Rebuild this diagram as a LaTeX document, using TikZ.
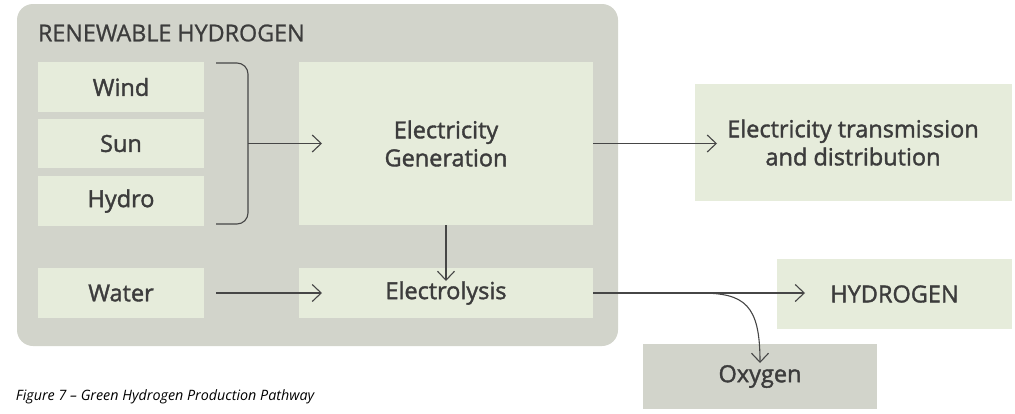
\documentclass[tikz,border=0pt]{standalone}
\usepackage{fontspec}
\setmainfont{Open Sans}
\newfontfamily\medfont{Open Sans}[FakeBold=1.6]
\newfontfamily\titfont{Open Sans}[FakeBold=0.9]
\usetikzlibrary{arrows.meta}
\definecolor{panelgray}{RGB}{210,212,203}
\definecolor{boxgreen}{RGB}{230,236,219}
\definecolor{txt}{RGB}{60,60,60}
\definecolor{ln}{RGB}{70,70,70}
\begin{document}
\begin{tikzpicture}[x=1pt,y=-1pt,
  every node/.style={inner sep=0pt,outer sep=0pt,text=txt},
  panelbox/.style={fill=panelgray,rounded corners=16pt},
  gbox/.style={fill=boxgreen,font=\medfont\fontsize{23.5}{28}\selectfont,align=center},
  obox/.style={fill=panelgray,font=\medfont\fontsize{23.5}{28}\selectfont,align=center},
  conn/.style={draw=ln,line width=1.1pt,-{Straight Barb[length=9pt,width=17pt,line width=1.1pt]}},
  plain/.style={draw=ln,line width=1.1pt}]
\useasboundingbox (0,0) rectangle (1015,413);
\node[panelbox,minimum width=601pt,minimum height=342pt] (panel) at (317.5,175) {};
\node[anchor=west,font=\titfont\fontsize{23.3}{26}\selectfont] (title) at (38,33) {RENEWABLE HYDROGEN};
\node[gbox,minimum width=166pt,minimum height=50pt] (wind) at (121,87) {Wind};
\node[gbox,minimum width=166pt,minimum height=49pt] (sun) at (121,143.5) {Sun};
\node[gbox,minimum width=166pt,minimum height=50pt] (hydro) at (121,201) {Hydro};
\node[gbox,minimum width=166pt,minimum height=50pt] (water) at (121,293) {Water};
\node[gbox,minimum width=294pt,minimum height=163pt] (gen) at (446,143.5) {Electricity\\Generation};
\node[gbox,minimum width=294pt,minimum height=50pt] (lysis) at (446,293) {Electrolysis};
\node[gbox,minimum width=317pt,minimum height=117pt] (trans) at (853,142.5) {Electricity transmission\\and distribution};
\node[gbox,minimum width=235pt,minimum height=70pt] (hyd) at (894.5,294) {HYDROGEN};
\node[obox,minimum width=234pt,minimum height=65pt] (oxy) at (760,376.5) {Oxygen};
\node[anchor=west,font=\itshape\fontsize{14.3}{16}\selectfont,text=black] (cap) at (16,397) {Figure 7 – Green Hydrogen Production Pathway};
% bracket
\coordinate (bt) at (216,63);
\coordinate (bb) at (216,224);
\coordinate (bm) at (248,143.5);
\draw[plain,rounded corners=11pt] (bt) -- (248,63) -- (248,224) -- (bb);
\coordinate (genin) at (322,143.5);
\draw[conn] (bm) -- (genin);
\coordinate (transin) at (717,143.5);
\draw[conn] (gen.east |- bm) -- (transin);
\coordinate (lysistop) at (446,281);
\draw[conn] (gen.south) -- (lysistop);
\coordinate (waterout) at (216,293);
\coordinate (lysisin) at (322,293);
\draw[conn] (waterout) -- (lysisin);
\coordinate (hydin) at (805,293);
\draw[conn] (lysis.east) -- (hydin);
\coordinate (oxyin) at (760,363);
\draw[conn] (642,293) -- (700,293) .. controls (745,293) and (760,305) .. (oxyin);
\end{tikzpicture}
\end{document}
